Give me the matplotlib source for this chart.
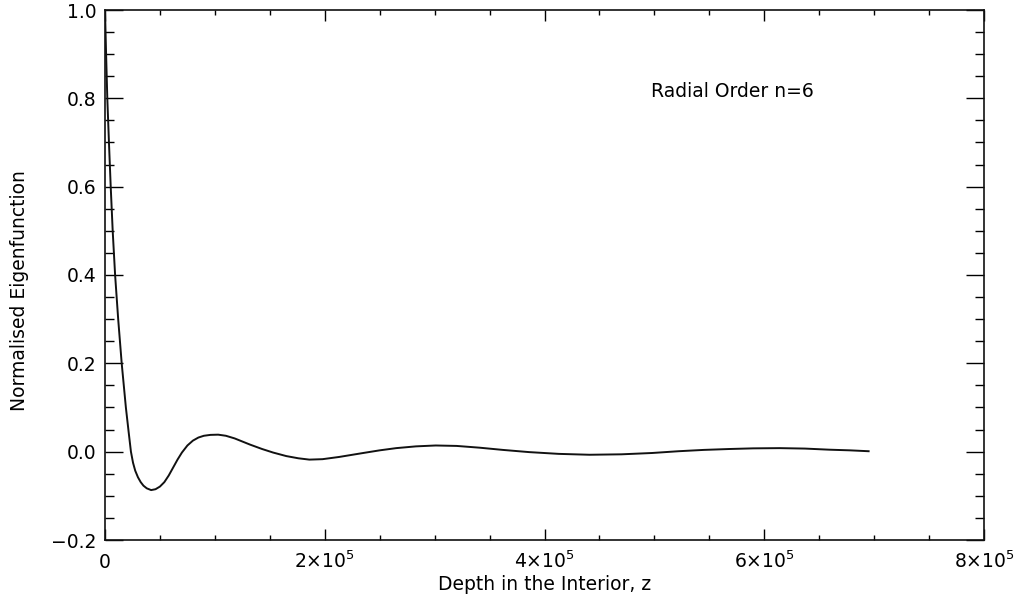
import matplotlib
matplotlib.use("Agg")
import matplotlib.pyplot as plt
from matplotlib.ticker import MultipleLocator

# Values (depth z, normalised eigenfunction)
depth = [0, 1000, 2100, 3600, 5200, 7000, 9200, 12000, 15200, 19000, 21500, 23600,
         25500, 27500, 30000, 32500, 35000, 38000, 42000, 46000, 50000, 54000,
         58000, 62000, 66000, 70000, 75000, 80000, 85000, 90000, 96000, 103000,
         110000, 118000, 125000, 132000, 143000, 153000, 165000,
         176000, 186000, 198000, 213000, 235000, 250000, 265000, 283000, 301000,
         320000, 341000, 362000, 386000, 413000, 441000, 470000, 498000, 522000,
         545000, 568000, 590000, 614000, 637000, 659000, 678000, 695000]
eigen = [1.00, 0.90, 0.80, 0.70, 0.60, 0.50, 0.40, 0.30, 0.20, 0.10, 0.045, 0.00,
         -0.025, -0.043, -0.058, -0.069, -0.077, -0.083, -0.087, -0.085, -0.079, -0.069,
         -0.054, -0.036, -0.018, -0.002, 0.014, 0.025, 0.032, 0.036, 0.038, 0.0385,
         0.036, 0.030, 0.023, 0.016, 0.006, -0.002, -0.010,
         -0.015, -0.018, -0.017, -0.012, -0.003, 0.003, 0.008, 0.012, 0.014,
         0.013, 0.009, 0.004, -0.001, -0.005, -0.007, -0.006, -0.003, 0.001,
         0.004, 0.006, 0.0075, 0.008, 0.007, 0.0045, 0.003, 0.001]

xticks = [0, 2e5, 4e5, 6e5, 8e5]
xticklabels = ["0", r"2$\times$10$^{5}$", r"4$\times$10$^{5}$",
               r"6$\times$10$^{5}$", r"8$\times$10$^{5}$"]
yticks = [-0.2, 0.0, 0.2, 0.4, 0.6, 0.8, 1.0]
yticklabels = ["\u22120.2", "0.0", "0.2", "0.4", "0.6", "0.8", "1.0"]

plt.rcParams['font.family'] = ['DejaVu Sans']
plt.rcParams['mathtext.fontset'] = 'dejavusans'
plt.rcParams['mathtext.default'] = 'regular'

fs = 13.5
fig = plt.figure(figsize=(10.28, 5.98), dpi=100)
ax = fig.add_axes([105/1028, 1 - 540/598, (984-105)/1028, (540-10)/598])

ax.plot(depth, eigen, color='#111111', lw=1.4)

ax.set_xlim(0, 8e5)
ax.set_ylim(-0.2, 1.0)
ax.set_xticks(xticks)
ax.set_xticklabels(xticklabels, fontsize=fs)
ax.set_yticks(yticks)
ax.set_yticklabels(yticklabels, fontsize=fs)
ax.xaxis.set_minor_locator(MultipleLocator(0.5e5))
ax.yaxis.set_minor_locator(MultipleLocator(0.05))

ax.tick_params(axis='x', which='major', direction='in', length=7.6, width=1.0,
               top=True, bottom=True, pad=20)
ax.tick_params(axis='x', which='minor', direction='in', length=3.8, width=1.0,
               top=True, bottom=True)
ax.tick_params(axis='y', which='major', direction='in', length=12.7, width=1.0,
               left=True, right=True, pad=6)
ax.tick_params(axis='y', which='minor', direction='in', length=6.3, width=1.0,
               left=True, right=True)
for lab in ax.get_xticklabels():
    lab.set_va('baseline')

for sp in ax.spines.values():
    sp.set_linewidth(1.2)
    sp.set_color('#111111')

ax.set_xlabel("Depth in the Interior, z", fontsize=fs)
ax.xaxis.set_label_coords(0.5, -0.066)
ax.set_ylabel("Normalised Eigenfunction", fontsize=fs)
ax.yaxis.set_label_coords(-0.0865, 0.47)

ax.text(4.97e5, 0.815, "Radial Order n=6", fontsize=fs, va='center', ha='left')

fig.savefig("out.png", dpi=100)
